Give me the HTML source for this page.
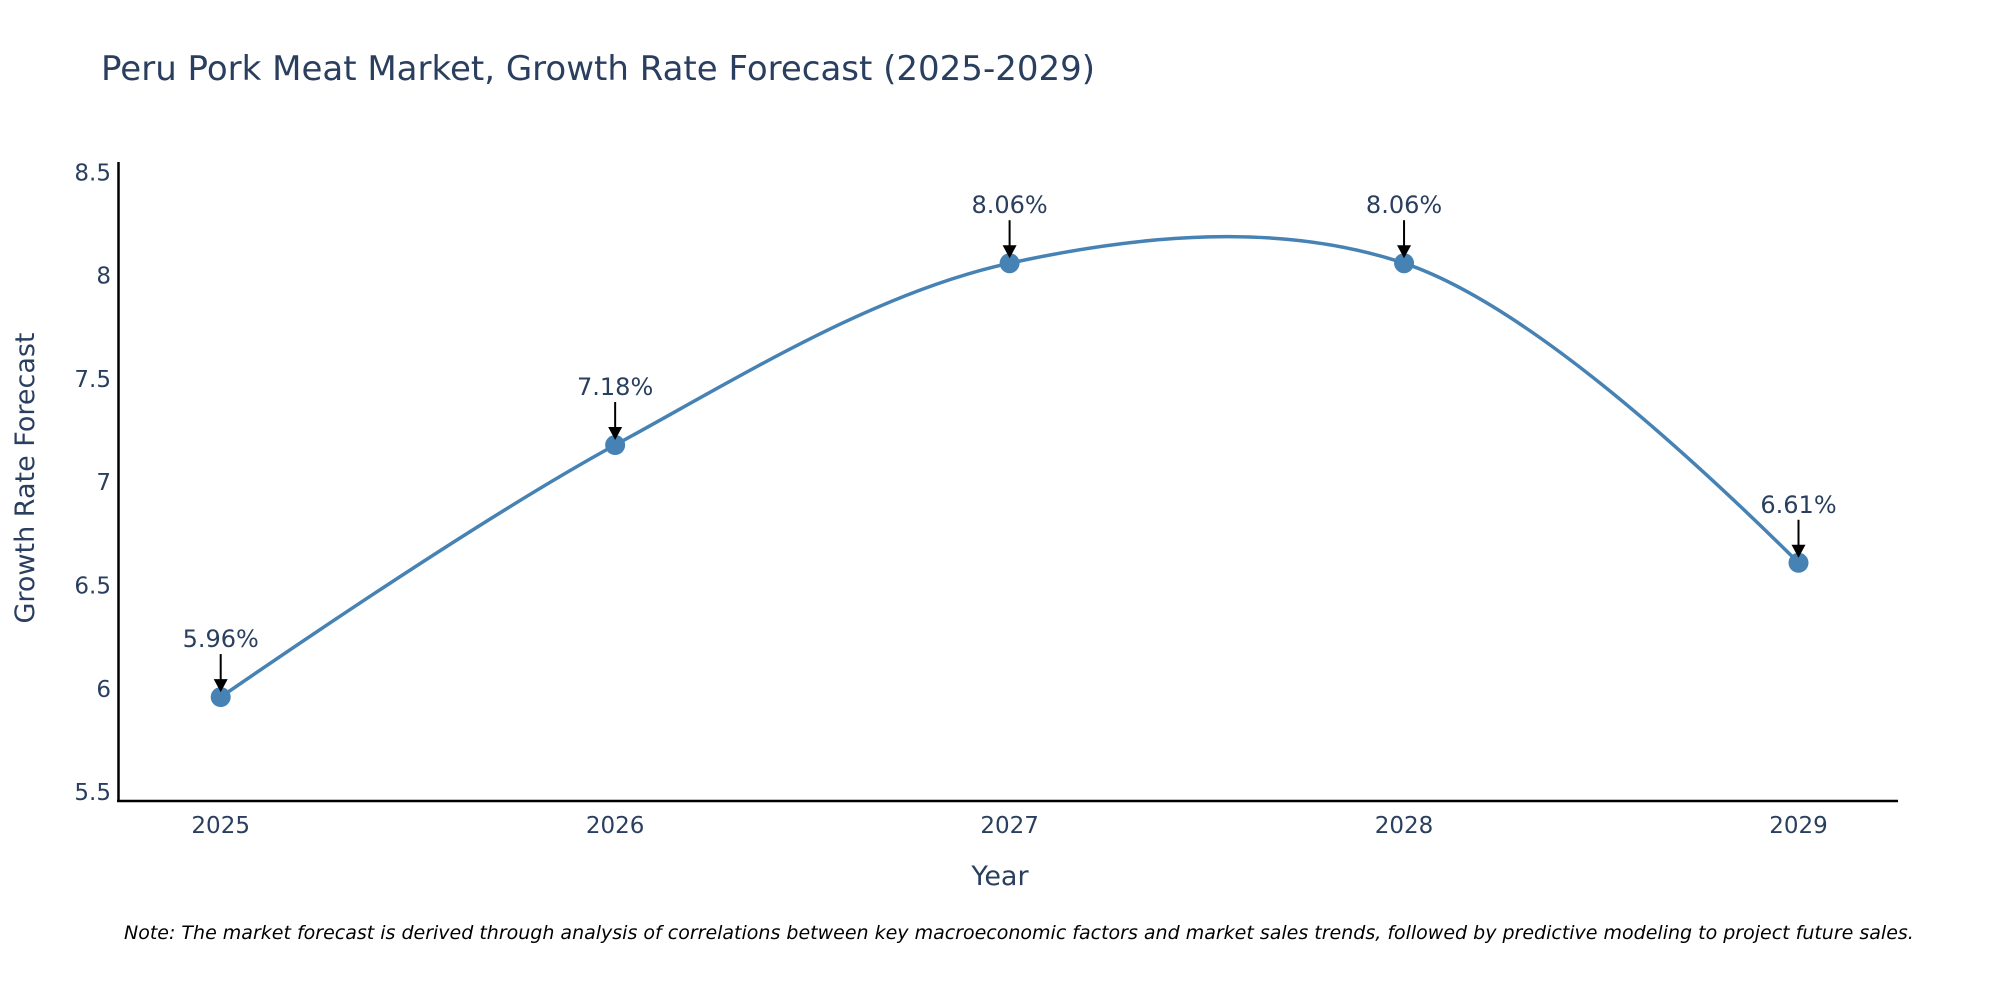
<!DOCTYPE html>
<html><head><meta charset="utf-8"><style>
html,body{margin:0;padding:0;background:#fff;}
svg{display:block;font-family:"DejaVu Sans","Liberation Sans",sans-serif;}
</style></head><body>
<svg id="chart" width="2000" height="1000" viewBox="0 0 2000 1000">
<text x="101" y="80" font-size="34" fill="#2a3f5f">Peru Pork Meat Market, Growth Rate Forecast (2025-2029)</text>
<g id="yticks"></g><g id="xticks"></g>
<line x1="118.5" y1="162" x2="118.5" y2="802" stroke="#000" stroke-width="2.5"/>
<line x1="117" y1="801" x2="1898" y2="801" stroke="#000" stroke-width="2.5"/>
<path id="line" fill="none" stroke="#4682B4" stroke-width="3.5"/>
<g id="marks"></g>
<text transform="translate(34,478) rotate(-90)" text-anchor="middle" font-size="27" fill="#2a3f5f">Growth Rate Forecast</text>
<text x="1000" y="885" text-anchor="middle" font-size="27" fill="#2a3f5f">Year</text>
<text x="124" y="939" font-size="19" font-style="italic" fill="#000">Note: The market forecast is derived through analysis of correlations between key macroeconomic factors and market sales trends, followed by predictive modeling to project future sales.</text>
</svg>
<script>
const years = [2025, 2026, 2027, 2028, 2029];
const values = [5.96, 7.18, 8.06, 8.06, 6.61];
const labels = ["5.96%", "7.18%", "8.06%", "8.06%", "6.61%"];
const yTicks = [5.5, 6, 6.5, 7, 7.5, 8, 8.5];
const yTickLabels = ["5.5", "6", "6.5", "7", "7.5", "8", "8.5"];

const NS = "http://www.w3.org/2000/svg";
function xS(v){ return 220.7 + (v - 2025) * 394.45; }
function yS(v){ return 688.8 - (v - 6) * 206.6; }
function mk(tag, attrs, parent){ const e = document.createElementNS(NS, tag); for (const k in attrs) e.setAttribute(k, attrs[k]); parent.appendChild(e); return e; }

const yg = document.getElementById('yticks');
yTicks.forEach((t, i) => {
  const el = mk('text', {x: 111, y: yS(t) + 8, 'text-anchor': 'end', 'font-size': 23, fill: '#2a3f5f'}, yg);
  el.textContent = yTickLabels[i];
  
  
});
const xg = document.getElementById('xticks');
years.forEach(y => {
  const el = mk('text', {x: xS(y), y: 833, 'text-anchor': 'middle', 'font-size': 23, fill: '#2a3f5f'}, xg);
  el.textContent = String(y);
  
  
});

const pts = years.map((y, i) => [xS(y), yS(values[i])]);
function tangent(p, t, n, s){
  const d1x = p[0]-t[0], d1y = p[1]-t[1], d2x = n[0]-t[0], d2y = n[1]-t[1];
  const d1a = Math.pow(d1x*d1x + d1y*d1y, 0.25), d2a = Math.pow(d2x*d2x + d2y*d2y, 0.25);
  const nx = (d2a*d2a*d1x - d1a*d1a*d2x)*s, ny = (d2a*d2a*d1y - d1a*d1a*d2y)*s;
  const den1 = 3*d2a*(d1a+d2a), den2 = 3*d1a*(d1a+d2a);
  return [[t[0] + nx/den1, t[1] + ny/den1], [t[0] - nx/den2, t[1] - ny/den2]];
}
const tans = [];
for (let i = 1; i < pts.length - 1; i++) tans.push(tangent(pts[i-1], pts[i], pts[i+1], 1));
let d = 'M' + pts[0] + 'Q' + tans[0][0] + ' ' + pts[1];
for (let i = 2; i < pts.length - 1; i++) d += 'C' + tans[i-2][1] + ' ' + tans[i-1][0] + ' ' + pts[i];
d += 'Q' + tans[pts.length-3][1] + ' ' + pts[pts.length-1];
document.getElementById('line').setAttribute('d', d);

const mg = document.getElementById('marks');
pts.forEach((p, i) => {
  const c = mk('circle', {cx: p[0], cy: p[1], r: 10, fill: '#4682B4'}, mg);
  
  
  const l = mk('line', {x1: p[0], y1: p[1]-43, x2: p[0], y2: p[1]-16, stroke: '#000', 'stroke-width': 2}, mg);
  
  
  const h = mk('path', {d: `M${p[0]-7},${p[1]-18} L${p[0]+7},${p[1]-18} L${p[0]},${p[1]-5} Z`, fill: '#000'}, mg);
  
  
  const t = mk('text', {x: p[0], y: p[1]-50, 'text-anchor': 'middle', 'font-size': 24, fill: '#2a3f5f'}, mg);
  t.textContent = labels[i];
  
  
});
</script>
</body></html>
